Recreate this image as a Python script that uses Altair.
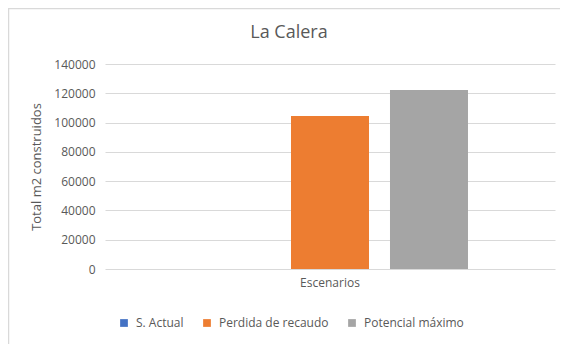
import altair as alt
import pandas as pd

series = ["S. Actual", "Perdida de recaudo", "Potencial máximo"]
values = [0, 104500, 122300]
colors = ["#4472C4", "#ED7D31", "#A5A5A5"]
category = "Escenarios"
title_text = "La Calera"
y_ticks = [0, 20000, 40000, 60000, 80000, 100000, 120000, 140000]

df = pd.DataFrame({"cat": [category] * len(series), "serie": series, "valor": values})

font = "Open Sans"
txt = "#595959"

bars = alt.Chart(df).mark_bar().encode(
    x=alt.X("cat:N", title=None,
            scale=alt.Scale(paddingInner=0, paddingOuter=0),
            axis=alt.Axis(labelAngle=0, ticks=False, domain=False, labelFontSize=12,
                          labelColor=txt, labelFont=font, labelPadding=8)),
    xOffset=alt.XOffset("serie:N", sort=series,
                        scale=alt.Scale(paddingInner=0.212, paddingOuter=0.879)),
    y=alt.Y("valor:Q", title="Total m2 construidos",
            scale=alt.Scale(domain=[0, 140000], nice=False),
            axis=alt.Axis(values=y_ticks, ticks=False, domain=False, labelFontSize=12,
                          labelColor=txt, labelFont=font, labelPadding=10,
                          titleFontSize=13, titleColor=txt, titleFont=font,
                          titleFontWeight="normal", titlePadding=10,
                          gridColor="#D9D9D9", gridWidth=1, format="d")),
    color=alt.Color("serie:N", sort=series,
                    scale=alt.Scale(domain=series, range=colors),
                    legend=alt.Legend(title=None, orient="none", direction="horizontal",
                                      legendX=13, legendY=253, symbolType="square",
                                      symbolSize=60, labelFontSize=12, labelColor=txt,
                                      labelFont=font, columnPadding=17, symbolOffset=0,
                                      labelOffset=6)),
)

border = alt.Chart(pd.DataFrame({"a": [0]})).mark_rect(
    filled=False, stroke="#D9D9D9", strokeWidth=1.5
).encode(x=alt.value(-96.5), x2=alt.value(700), y=alt.value(-55.5), y2=alt.value(500))

title = alt.Chart(pd.DataFrame({"t": [title_text]})).mark_text(
    font=font, fontSize=18, color=txt, align="center", baseline="middle"
).encode(text="t:N", x=alt.value(184), y=alt.value(-31))

chart = alt.layer(border, bars, title).properties(
    width=450, height=205,
    padding={"left": 97, "top": 56, "right": 5, "bottom": 75},
    autosize=alt.AutoSizeParams(type="none"),
).configure_view(stroke=None)

chart.save("out.html", embed_options={"renderer": "svg", "actions": False})
